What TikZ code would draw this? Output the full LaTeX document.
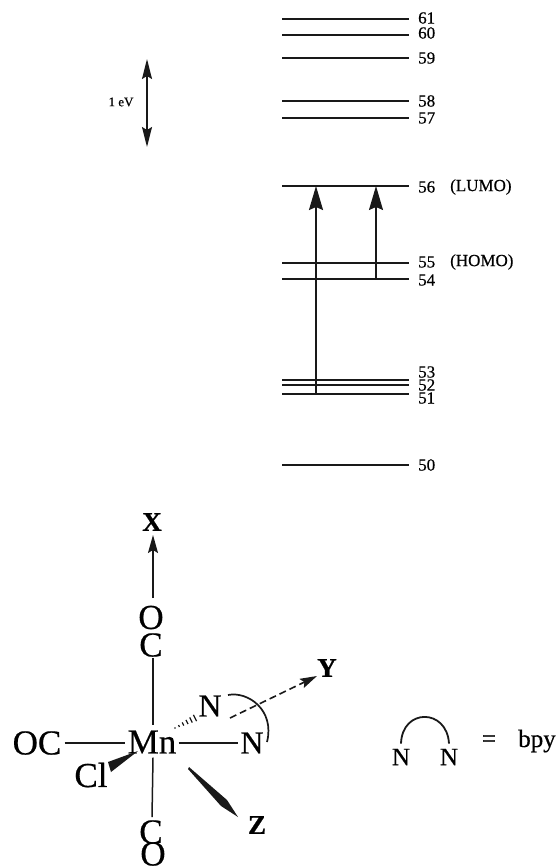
\documentclass[tikz,border=0pt]{standalone}
\usepackage{fontspec}
\setmainfont{Liberation Serif}[FakeBold=0.5,BoldFeatures={FakeBold=0.8}]
\usetikzlibrary{arrows.meta,calc}
\tikzset{
  level/.style={line width=1.9pt,black!90},
  lab/.style={font=\fontsize{17}{17}\selectfont,anchor=west,inner sep=0pt},
  atom/.style={font=\fontsize{35}{35}\selectfont,inner sep=0pt},
  natom/.style={font=\fontsize{32}{32}\selectfont,inner sep=0pt},
  satom/.style={font=\fontsize{25}{25}\selectfont,inner sep=0pt},
  axis/.style={font=\fontsize{27}{27}\selectfont\bfseries,inner sep=0pt},
  bond/.style={line width=1.5pt,black!90},
  trans/.style={line width=1.7pt,black!90,-{Stealth[length=24pt,width=14pt,inset=3pt]}},
  axarrow/.style={line width=1.5pt,black!90,-{Stealth[length=18pt,width=10pt,inset=3pt]}},
  solidfill/.style={fill=black!90,draw=none},
}
\begin{document}
\begin{tikzpicture}[x=1pt,y=-1pt]
\useasboundingbox (0,0) rectangle (558,867);
% energy levels
\foreach \n/\y/\ly in {61/19/18,60/35/33,59/58/58,58/101/101,57/118/118,56/186/187,55/263/262,54/279/280,53/380/372,52/385/385,51/394/398,50/465/465}{
  \coordinate (a\n) at (282,\y);
  \coordinate (b\n) at (409,\y);
  \draw[level] (a\n) -- (b\n);
  \node[lab] (t\n) at (418,\ly) {\n};
}
\node[lab] (lumo) at (450,187) {(LUMO)};
\node[lab] (homo) at (450,262) {(HOMO)};
% transitions
\coordinate (s1) at (316,394);
\coordinate (e1) at (316,186);
\coordinate (s2) at (376,279);
\coordinate (e2) at (376,186);
\draw[trans] (s1) -- (e1);
\draw[trans,line width=1.3pt] (s2) -- (e2);
% scale
\coordinate (sa) at (147,59);
\coordinate (sb) at (147,147);
\draw[line width=1.6pt,black!90,{Stealth[length=20pt,width=10pt,inset=3pt]}-{Stealth[length=20pt,width=10pt,inset=3pt]}] (sa) -- (sb);
\node[inner sep=0pt,font=\fontsize{13}{13}\selectfont] (ev) at (121,102) {1 eV};
% molecule
\node[atom] (Mn) at (152,742) {Mn};
\node[atom] (OC) at (37,743) {OC};
\node[atom] (Cl) at (91,775) {Cl};
\node[atom] (Ctop) at (151,645) {C};
\node[atom] (Otop) at (151,617.5) {O};
\node[atom] (Cbot) at (151,832) {C};
\node[atom] (Obot) at (153,854) {O};
\node[natom] (Nup) at (210,706) {N};
\node[natom] (Nlow) at (252,743) {N};
\node[axis] (X) at (152,522) {X};
\node[axis] (Y) at (327,668) {Y};
\node[axis] (Z) at (257,825) {Z};
\draw[bond] ([shift={(3,0)}]OC.east) -- ([shift={(-2,1)}]Mn.west);
\draw[bond] ([shift={(2,1)}]Mn.east) -- ([shift={(-2,0)}]Nlow.west);
\draw[bond] ([shift={(2,1)}]Ctop.south) -- ([shift={(1,-5)}]Mn.north);
\draw[bond] ([shift={(1,4)}]Mn.south) -- ([shift={(1,-3)}]Cbot.north);
\coordinate (xs) at (153,598);
\coordinate (xe) at (153,535);
\draw[axarrow] (xs) -- (xe);
% wedge to Cl
\coordinate (wt) at (138,751);
\coordinate (wa) at (108,762);
\coordinate (wb) at (111,772);
\fill[solidfill] (wt) -- (wa) -- (wb) -- cycle;
% hashed bond
\coordinate (ha) at (175,728);
\coordinate (hb) at (195,718);
\foreach \t/\w in {0/0.6,0.2/1.1,0.4/1.7,0.6/2.3,0.8/2.9,1/3.5}{
  \draw[line width=1.2pt,black!90,shift={($(ha)!\t!(hb)$)}] (-\w*0.45,-\w*0.89) -- (\w*0.45,\w*0.89);
}
% chelate arc
\coordinate (ca) at (228,695);
\coordinate (cb) at (267,742);
\draw[bond,line width=1.7pt] (ca) .. controls (248,691) and (275,710) .. (cb);
% Y axis
\coordinate (ys) at (230,718);
\coordinate (ye) at (317,676);
\draw[line width=1.6pt,black!90,dash pattern=on 7pt off 4pt,-{Stealth[length=17pt,width=10pt,inset=3pt]}] (ys) -- (ye);
% Z axis
\coordinate (zs) at (189,767);
\coordinate (zs2) at (188,769);
\coordinate (zl) at (227,800);
\coordinate (zt) at (238,817);
\coordinate (zr) at (221,806);
\fill[solidfill] (zs) -- (zl) -- (zt) -- (zr) -- (zs2) -- cycle;
% bpy legend
\node[satom] (Na) at (401,757) {N};
\node[satom] (Nb) at (449,757) {N};
\draw[line width=1.8pt,black!90] ([yshift=5pt]Na.north) .. controls (402,708) and (447,708) .. ([yshift=5pt]Nb.north);
\node[satom] (eq) at (489,741) {=};
\node[satom] (bpy) at (537,741) {bpy};
\end{tikzpicture}
\end{document}
